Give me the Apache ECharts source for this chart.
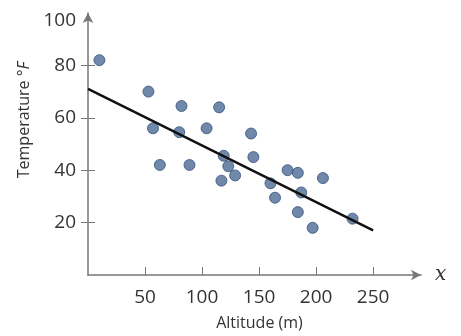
<!DOCTYPE html>
<html>
<head>
<meta charset="utf-8">
<script src="https://cdn.jsdelivr.net/npm/echarts@6/dist/echarts.min.js"></script>
<style>
    html, body { margin: 0; padding: 0; background: #fff; }
    #chart { width: 461px; height: 336px; }
</style>
</head>
<body>
<div id="chart"></div>
<script>
// altitude (m) / temperature (°F) readings
const altitude = [10, 53, 82, 115, 57, 80, 104, 119, 123, 117, 129, 63, 89, 143, 145,
    175, 184, 206, 160, 164, 187, 184, 197, 232];
const temperature = [82, 70, 64.5, 64, 56, 54.5, 56, 45.5, 41.5, 36, 38, 42, 42, 54, 45,
    40, 39, 37, 35, 29.5, 31.5, 24, 18, 21.5];
// fitted line end points
const fitX = [0, 250];
const fitY = [71, 17];
const xTicks = [50, 100, 150, 200, 250];
const yTicks = [20, 40, 60, 80, 100];

const points = altitude.map((a, i) => [a, temperature[i]]);
const fitLine = fitX.map((a, i) => [a, fitY[i]]);

const axisColor = '#777';
const font = 'Open Sans';

let chart = echarts.init(document.getElementById('chart'));
chart.setOption({
    animation: false,
    grid: { left: 88, right: 40, top: 13, bottom: 60 },
    xAxis: [
        {
            type: 'value',
            min: 0,
            max: 292,
            name: 'x',
            nameLocation: 'end',
            nameGap: 14,
            nameTextStyle: { fontFamily: 'DejaVu Serif', fontStyle: 'italic', fontSize: 20, color: '#333', padding: [4, 0, 0, 0] },
            splitLine: { show: false },
            axisLine: { onZero: false, symbol: ['none', 'arrow'], symbolSize: [8, 10], lineStyle: { color: axisColor, width: 1.5 } },
            axisTick: { show: true, inside: true, length: 8, customValues: xTicks, lineStyle: { color: axisColor } },
            axisLabel: { customValues: xTicks, margin: 13, fontFamily: font, fontSize: 19, color: '#333' }
        },
        {
            type: 'value',
            position: 'bottom',
            min: 0,
            max: 292,
            name: 'Altitude (m)',
            nameLocation: 'middle',
            nameGap: 40,
            nameTextStyle: { fontFamily: font, fontSize: 16, color: '#333', padding: [0, 0, 0, 10] },
            splitLine: { show: false },
            axisLine: { show: false },
            axisTick: { show: false },
            axisLabel: { show: false }
        }
    ],
    yAxis: [
        {
            type: 'value',
            min: 0,
            max: 100,
            name: 'Temperature °{i|F}',
            nameLocation: 'middle',
            nameGap: 54,
            nameTextStyle: {
                fontFamily: font, fontSize: 16, color: '#333', padding: [0, 0, 0, 48],
                rich: { i: { fontFamily: font, fontStyle: 'italic', fontSize: 16, color: '#333' } }
            },
            splitLine: { show: false },
            axisLine: { onZero: false, symbol: ['none', 'arrow'], symbolSize: [8, 10], lineStyle: { color: axisColor, width: 1.5 } },
            axisTick: { show: true, inside: true, length: 7, customValues: yTicks.slice(0, 4), lineStyle: { color: axisColor } },
            axisLabel: {
                customValues: yTicks, margin: 12, fontFamily: font, fontSize: 19, color: '#333',
                formatter: v => v === 100 ? '{t|100}' : String(v),
                rich: { t: { fontFamily: font, fontSize: 19, color: '#333', padding: [16, 0, 0, 0] } }
            }
        },
        {
            type: 'value',
            position: 'left',
            min: 0,
            max: 100,
            splitLine: { show: false },
            axisLine: { show: false },
            axisTick: { show: true, inside: false, length: 7, customValues: yTicks.slice(0, 4), lineStyle: { color: axisColor } },
            axisLabel: { show: false }
        }
    ],
    series: [
        {
            type: 'line',
            data: fitLine,
            symbol: 'none',
            lineStyle: { color: '#111', width: 2.5 },
            z: 3
        },
        {
            type: 'scatter',
            data: points,
            symbolSize: 11,
            itemStyle: { color: '#4c6a93', borderColor: '#34527a', borderWidth: 1 },
            z: 2
        }
    ]
});
</script>
</body>
</html>
